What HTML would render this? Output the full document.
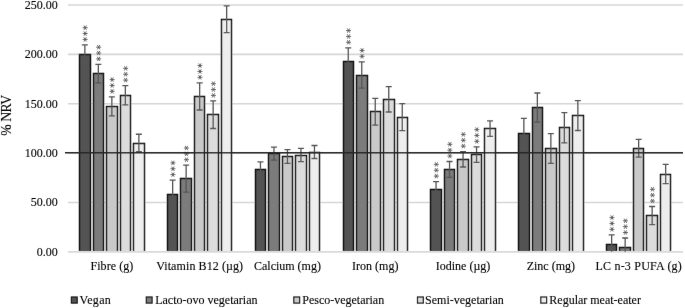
<!DOCTYPE html><html><head><meta charset="utf-8"><style>
html,body{margin:0;padding:0;background:#fff;width:685px;height:308px;overflow:hidden}
#w{opacity:0.999;will-change:transform}
svg{display:block}text{font-family:"Liberation Serif",serif;font-size:12px;fill:#050505;stroke:#050505;stroke-width:0.12px}
</style></head><body><div id="w">
<svg width="685" height="308" viewBox="0 0 685 308">
<defs><filter id="bl" x="0" y="0" width="685" height="308" filterUnits="userSpaceOnUse"><feConvolveMatrix order="3" kernelMatrix="0.0016 0.0371 0.0016 0.0371 0.8450 0.0371 0.0016 0.0371 0.0016" edgeMode="none" preserveAlpha="false"/></filter></defs>
<rect width="685" height="308" fill="#fff"/>
<g filter="url(#bl)">
<line x1="68.0" y1="202.44" x2="683.0" y2="202.44" stroke="#d6d6d6" stroke-width="1.6"/>
<line x1="68.0" y1="153.08" x2="683.0" y2="153.08" stroke="#d6d6d6" stroke-width="1.6"/>
<line x1="68.0" y1="103.72" x2="683.0" y2="103.72" stroke="#d6d6d6" stroke-width="1.6"/>
<line x1="68.0" y1="54.36" x2="683.0" y2="54.36" stroke="#d6d6d6" stroke-width="1.6"/>
<line x1="68.0" y1="5.00" x2="683.0" y2="5.00" stroke="#d6d6d6" stroke-width="1.6"/>
<text x="57.7" y="255.80" text-anchor="end" textLength="21.00" lengthAdjust="spacing">0.00</text>
<text x="57.7" y="206.44" text-anchor="end" textLength="27.00" lengthAdjust="spacing">50.00</text>
<text x="57.7" y="157.08" text-anchor="end" textLength="33.00" lengthAdjust="spacing">100.00</text>
<text x="57.7" y="107.72" text-anchor="end" textLength="33.00" lengthAdjust="spacing">150.00</text>
<text x="57.7" y="58.36" text-anchor="end" textLength="33.00" lengthAdjust="spacing">200.00</text>
<text x="57.7" y="9.00" text-anchor="end" textLength="33.00" lengthAdjust="spacing">250.00</text>
<text transform="translate(11,115.35) rotate(-90)" text-anchor="middle" style="font-size:13.7px" textLength="40.9" lengthAdjust="spacing">% NRV</text>
<path d="M79.50 251.2V54.50H90.50V251.2" fill="#525252" stroke="#141414" stroke-width="1.45"/>
<path d="M93.50 251.2V73.50H103.50V251.2" fill="#7c7c7c" stroke="#141414" stroke-width="1.45"/>
<path d="M106.50 251.2V106.50H117.50V251.2" fill="#c9c9c9" stroke="#141414" stroke-width="1.45"/>
<path d="M120.50 251.2V95.50H130.50V251.2" fill="#dcdcdc" stroke="#141414" stroke-width="1.45"/>
<path d="M133.50 251.2V143.50H144.50V251.2" fill="#eeeeee" stroke="#141414" stroke-width="1.45"/>
<path d="M167.50 251.2V194.50H177.50V251.2" fill="#525252" stroke="#141414" stroke-width="1.45"/>
<path d="M180.50 251.2V178.50H191.50V251.2" fill="#7c7c7c" stroke="#141414" stroke-width="1.45"/>
<path d="M194.50 251.2V96.50H204.50V251.2" fill="#c9c9c9" stroke="#141414" stroke-width="1.45"/>
<path d="M207.50 251.2V114.50H218.50V251.2" fill="#dcdcdc" stroke="#141414" stroke-width="1.45"/>
<path d="M221.50 251.2V19.50H231.50V251.2" fill="#eeeeee" stroke="#141414" stroke-width="1.45"/>
<path d="M255.50 251.2V169.50H265.50V251.2" fill="#525252" stroke="#141414" stroke-width="1.45"/>
<path d="M268.50 251.2V153.50H279.50V251.2" fill="#7c7c7c" stroke="#141414" stroke-width="1.45"/>
<path d="M282.50 251.2V156.50H292.50V251.2" fill="#c9c9c9" stroke="#141414" stroke-width="1.45"/>
<path d="M295.50 251.2V155.50H306.50V251.2" fill="#dcdcdc" stroke="#141414" stroke-width="1.45"/>
<path d="M309.50 251.2V152.50H319.50V251.2" fill="#eeeeee" stroke="#141414" stroke-width="1.45"/>
<path d="M343.50 251.2V61.50H353.50V251.2" fill="#525252" stroke="#141414" stroke-width="1.45"/>
<path d="M356.50 251.2V75.50H367.50V251.2" fill="#7c7c7c" stroke="#141414" stroke-width="1.45"/>
<path d="M370.50 251.2V111.50H380.50V251.2" fill="#c9c9c9" stroke="#141414" stroke-width="1.45"/>
<path d="M383.50 251.2V99.50H394.50V251.2" fill="#dcdcdc" stroke="#141414" stroke-width="1.45"/>
<path d="M397.50 251.2V117.50H407.50V251.2" fill="#eeeeee" stroke="#141414" stroke-width="1.45"/>
<path d="M430.50 251.2V189.50H441.50V251.2" fill="#525252" stroke="#141414" stroke-width="1.45"/>
<path d="M444.50 251.2V169.50H454.50V251.2" fill="#7c7c7c" stroke="#141414" stroke-width="1.45"/>
<path d="M457.50 251.2V159.50H468.50V251.2" fill="#c9c9c9" stroke="#141414" stroke-width="1.45"/>
<path d="M471.50 251.2V154.50H481.50V251.2" fill="#dcdcdc" stroke="#141414" stroke-width="1.45"/>
<path d="M484.50 251.2V128.50H495.50V251.2" fill="#eeeeee" stroke="#141414" stroke-width="1.45"/>
<path d="M518.50 251.2V133.50H529.50V251.2" fill="#525252" stroke="#141414" stroke-width="1.45"/>
<path d="M532.50 251.2V107.50H542.50V251.2" fill="#7c7c7c" stroke="#141414" stroke-width="1.45"/>
<path d="M545.50 251.2V148.50H556.50V251.2" fill="#c9c9c9" stroke="#141414" stroke-width="1.45"/>
<path d="M559.50 251.2V127.50H569.50V251.2" fill="#dcdcdc" stroke="#141414" stroke-width="1.45"/>
<path d="M572.50 251.2V115.50H583.50V251.2" fill="#eeeeee" stroke="#141414" stroke-width="1.45"/>
<path d="M606.50 251.2V244.50H616.50V251.2" fill="#525252" stroke="#141414" stroke-width="1.45"/>
<path d="M619.50 251.2V247.50H630.50V251.2" fill="#7c7c7c" stroke="#141414" stroke-width="1.45"/>
<path d="M633.50 251.2V148.50H643.50V251.2" fill="#c9c9c9" stroke="#141414" stroke-width="1.45"/>
<path d="M646.50 251.2V215.50H657.50V251.2" fill="#dcdcdc" stroke="#141414" stroke-width="1.45"/>
<path d="M660.50 251.2V174.50H670.50V251.2" fill="#eeeeee" stroke="#141414" stroke-width="1.45"/>
<line x1="68.0" y1="251.90" x2="683.0" y2="251.90" stroke="#d9d9d9" stroke-width="1.6"/>
<path d="M84.85 44.90V63.30M81.85 44.90H87.85M81.85 63.30H87.85" stroke="#555" stroke-width="1.3" fill="none"/>
<path d="M98.35 64.40V82.80M95.35 64.40H101.35M95.35 82.80H101.35" stroke="#555" stroke-width="1.3" fill="none"/>
<path d="M111.85 96.80V115.80M108.85 96.80H114.85M108.85 115.80H114.85" stroke="#555" stroke-width="1.3" fill="none"/>
<path d="M125.35 85.60V104.80M122.35 85.60H128.35M122.35 104.80H128.35" stroke="#555" stroke-width="1.3" fill="none"/>
<path d="M138.85 134.25V151.75M135.85 134.25H141.85M135.85 151.75H141.85" stroke="#555" stroke-width="1.3" fill="none"/>
<path d="M172.65 180.10V208.70M169.65 180.10H175.65M169.65 208.70H175.65" stroke="#555" stroke-width="1.3" fill="none"/>
<path d="M186.15 165.20V192.20M183.15 165.20H189.15M183.15 192.20H189.15" stroke="#555" stroke-width="1.3" fill="none"/>
<path d="M199.65 82.80V110.00M196.65 82.80H202.65M196.65 110.00H202.65" stroke="#555" stroke-width="1.3" fill="none"/>
<path d="M213.15 100.90V128.50M210.15 100.90H216.15M210.15 128.50H216.15" stroke="#555" stroke-width="1.3" fill="none"/>
<path d="M226.65 5.90V32.70M223.65 5.90H229.65M223.65 32.70H229.65" stroke="#555" stroke-width="1.3" fill="none"/>
<path d="M260.45 161.80V176.80M257.45 161.80H263.45M257.45 176.80H263.45" stroke="#555" stroke-width="1.3" fill="none"/>
<path d="M273.95 147.20V160.20M270.95 147.20H276.95M270.95 160.20H276.95" stroke="#555" stroke-width="1.3" fill="none"/>
<path d="M287.45 149.70V163.30M284.45 149.70H290.45M284.45 163.30H290.45" stroke="#555" stroke-width="1.3" fill="none"/>
<path d="M300.95 148.40V161.60M297.95 148.40H303.95M297.95 161.60H303.95" stroke="#555" stroke-width="1.3" fill="none"/>
<path d="M314.45 145.50V158.50M311.45 145.50H317.45M311.45 158.50H317.45" stroke="#555" stroke-width="1.3" fill="none"/>
<path d="M348.25 47.80V74.80M345.25 47.80H351.25M345.25 74.80H351.25" stroke="#555" stroke-width="1.3" fill="none"/>
<path d="M361.75 61.80V88.20M358.75 61.80H364.75M358.75 88.20H364.75" stroke="#555" stroke-width="1.3" fill="none"/>
<path d="M375.25 98.40V125.20M372.25 98.40H378.25M372.25 125.20H378.25" stroke="#555" stroke-width="1.3" fill="none"/>
<path d="M388.75 86.60V112.00M385.75 86.60H391.75M385.75 112.00H391.75" stroke="#555" stroke-width="1.3" fill="none"/>
<path d="M402.25 103.60V130.60M399.25 103.60H405.25M399.25 130.60H405.25" stroke="#555" stroke-width="1.3" fill="none"/>
<path d="M436.05 181.60V197.80M433.05 181.60H439.05M433.05 197.80H439.05" stroke="#555" stroke-width="1.3" fill="none"/>
<path d="M449.55 161.50V177.30M446.55 161.50H452.55M446.55 177.30H452.55" stroke="#555" stroke-width="1.3" fill="none"/>
<path d="M463.05 151.60V167.00M460.05 151.60H466.05M460.05 167.00H466.05" stroke="#555" stroke-width="1.3" fill="none"/>
<path d="M476.55 146.80V162.40M473.55 146.80H479.55M473.55 162.40H479.55" stroke="#555" stroke-width="1.3" fill="none"/>
<path d="M490.05 120.90V136.30M487.05 120.90H493.05M487.05 136.30H493.05" stroke="#555" stroke-width="1.3" fill="none"/>
<path d="M523.85 118.40V148.20M520.85 118.40H526.85M520.85 148.20H526.85" stroke="#555" stroke-width="1.3" fill="none"/>
<path d="M537.35 93.00V122.20M534.35 93.00H540.35M534.35 122.20H540.35" stroke="#555" stroke-width="1.3" fill="none"/>
<path d="M550.85 133.60V163.40M547.85 133.60H553.85M547.85 163.40H553.85" stroke="#555" stroke-width="1.3" fill="none"/>
<path d="M564.35 112.70V142.90M561.35 112.70H567.35M561.35 142.90H567.35" stroke="#555" stroke-width="1.3" fill="none"/>
<path d="M577.85 100.70V130.50M574.85 100.70H580.85M574.85 130.50H580.85" stroke="#555" stroke-width="1.3" fill="none"/>
<path d="M611.65 234.80V251.80M608.65 234.80H614.65" stroke="#555" stroke-width="1.3" fill="none"/>
<path d="M625.15 238.00V251.80M622.15 238.00H628.15" stroke="#555" stroke-width="1.3" fill="none"/>
<path d="M638.65 139.40V157.20M635.65 139.40H641.65M635.65 157.20H641.65" stroke="#555" stroke-width="1.3" fill="none"/>
<path d="M652.15 206.50V224.70M649.15 206.50H655.15M649.15 224.70H655.15" stroke="#555" stroke-width="1.3" fill="none"/>
<path d="M665.65 164.40V183.60M662.65 164.40H668.65M662.65 183.60H668.65" stroke="#555" stroke-width="1.3" fill="none"/>
<path d="M83.05 39.40H87.25M84.10 37.58L86.20 41.22M86.20 37.58L84.10 41.22M83.05 33.55H87.25M84.10 31.73L86.20 35.37M86.20 31.73L84.10 35.37M83.05 27.70H87.25M84.10 25.88L86.20 29.52M86.20 25.88L84.10 29.52M96.55 58.90H100.75M97.60 57.08L99.70 60.72M99.70 57.08L97.60 60.72M96.55 53.05H100.75M97.60 51.23L99.70 54.87M99.70 51.23L97.60 54.87M96.55 47.20H100.75M97.60 45.38L99.70 49.02M99.70 45.38L97.60 49.02M110.05 91.30H114.25M111.10 89.48L113.20 93.12M113.20 89.48L111.10 93.12M110.05 85.45H114.25M111.10 83.63L113.20 87.27M113.20 83.63L111.10 87.27M110.05 79.60H114.25M111.10 77.78L113.20 81.42M113.20 77.78L111.10 81.42M123.55 80.10H127.75M124.60 78.28L126.70 81.92M126.70 78.28L124.60 81.92M123.55 74.25H127.75M124.60 72.43L126.70 76.07M126.70 72.43L124.60 76.07M123.55 68.40H127.75M124.60 66.58L126.70 70.22M126.70 66.58L124.60 70.22M170.85 174.60H175.05M171.90 172.78L174.00 176.42M174.00 172.78L171.90 176.42M170.85 168.75H175.05M171.90 166.93L174.00 170.57M174.00 166.93L171.90 170.57M170.85 162.90H175.05M171.90 161.08L174.00 164.72M174.00 161.08L171.90 164.72M184.35 159.70H188.55M185.40 157.88L187.50 161.52M187.50 157.88L185.40 161.52M184.35 153.85H188.55M185.40 152.03L187.50 155.67M187.50 152.03L185.40 155.67M184.35 148.00H188.55M185.40 146.18L187.50 149.82M187.50 146.18L185.40 149.82M197.85 77.30H202.05M198.90 75.48L201.00 79.12M201.00 75.48L198.90 79.12M197.85 71.45H202.05M198.90 69.63L201.00 73.27M201.00 69.63L198.90 73.27M197.85 65.60H202.05M198.90 63.78L201.00 67.42M201.00 63.78L198.90 67.42M211.35 95.40H215.55M212.40 93.58L214.50 97.22M214.50 93.58L212.40 97.22M211.35 89.55H215.55M212.40 87.73L214.50 91.37M214.50 87.73L212.40 91.37M211.35 83.70H215.55M212.40 81.88L214.50 85.52M214.50 81.88L212.40 85.52M346.45 42.30H350.65M347.50 40.48L349.60 44.12M349.60 40.48L347.50 44.12M346.45 36.45H350.65M347.50 34.63L349.60 38.27M349.60 34.63L347.50 38.27M346.45 30.60H350.65M347.50 28.78L349.60 32.42M349.60 28.78L347.50 32.42M359.95 56.30H364.15M361.00 54.48L363.10 58.12M363.10 54.48L361.00 58.12M359.95 50.45H364.15M361.00 48.63L363.10 52.27M363.10 48.63L361.00 52.27M434.25 176.10H438.45M435.30 174.28L437.40 177.92M437.40 174.28L435.30 177.92M434.25 170.25H438.45M435.30 168.43L437.40 172.07M437.40 168.43L435.30 172.07M434.25 164.40H438.45M435.30 162.58L437.40 166.22M437.40 162.58L435.30 166.22M447.75 156.00H451.95M448.80 154.18L450.90 157.82M450.90 154.18L448.80 157.82M447.75 150.15H451.95M448.80 148.33L450.90 151.97M450.90 148.33L448.80 151.97M447.75 144.30H451.95M448.80 142.48L450.90 146.12M450.90 142.48L448.80 146.12M461.25 146.10H465.45M462.30 144.28L464.40 147.92M464.40 144.28L462.30 147.92M461.25 140.25H465.45M462.30 138.43L464.40 142.07M464.40 138.43L462.30 142.07M461.25 134.40H465.45M462.30 132.58L464.40 136.22M464.40 132.58L462.30 136.22M474.75 141.30H478.95M475.80 139.48L477.90 143.12M477.90 139.48L475.80 143.12M474.75 135.45H478.95M475.80 133.63L477.90 137.27M477.90 133.63L475.80 137.27M474.75 129.60H478.95M475.80 127.78L477.90 131.42M477.90 127.78L475.80 131.42M609.85 229.30H614.05M610.90 227.48L613.00 231.12M613.00 227.48L610.90 231.12M609.85 223.45H614.05M610.90 221.63L613.00 225.27M613.00 221.63L610.90 225.27M609.85 217.60H614.05M610.90 215.78L613.00 219.42M613.00 215.78L610.90 219.42M623.35 232.50H627.55M624.40 230.68L626.50 234.32M626.50 230.68L624.40 234.32M623.35 226.65H627.55M624.40 224.83L626.50 228.47M626.50 224.83L624.40 228.47M623.35 220.80H627.55M624.40 218.98L626.50 222.62M626.50 218.98L624.40 222.62M650.35 201.00H654.55M651.40 199.18L653.50 202.82M653.50 199.18L651.40 202.82M650.35 195.15H654.55M651.40 193.33L653.50 196.97M653.50 193.33L651.40 196.97M650.35 189.30H654.55M651.40 187.48L653.50 191.12M653.50 187.48L651.40 191.12" stroke="#505050" stroke-width="0.85" stroke-linecap="round" fill="none"/>
<line x1="65" y1="152.75" x2="683.0" y2="152.75" stroke="#262626" stroke-width="1.3"/>
<text x="111.85" y="269.8" text-anchor="middle" textLength="42.92" lengthAdjust="spacing">Fibre (g)</text>
<text x="199.65" y="269.8" text-anchor="middle" textLength="86.84" lengthAdjust="spacing">Vitamin B12 (µg)</text>
<text x="287.45" y="269.8" text-anchor="middle" textLength="66.98" lengthAdjust="spacing">Calcium (mg)</text>
<text x="375.25" y="269.8" text-anchor="middle" textLength="46.32" lengthAdjust="spacing">Iron (mg)</text>
<text x="463.05" y="269.8" text-anchor="middle" textLength="54.56" lengthAdjust="spacing">Iodine (µg)</text>
<text x="550.85" y="269.8" text-anchor="middle" textLength="48.32" lengthAdjust="spacing">Zinc (mg)</text>
<text x="638.65" y="269.8" text-anchor="middle" textLength="86.30" lengthAdjust="spacing">LC n-3 PUFA (g)</text>
<rect x="71.40" y="297.0" width="5.8" height="6.1" fill="#525252" stroke="#1a1a1a" stroke-width="1.2"/>
<text x="79.50" y="304" textLength="31.32" lengthAdjust="spacing">Vegan</text>
<rect x="146.30" y="297.0" width="5.8" height="6.1" fill="#7c7c7c" stroke="#1a1a1a" stroke-width="1.2"/>
<text x="155.20" y="304" textLength="102.28" lengthAdjust="spacing">Lacto-ovo vegetarian</text>
<rect x="293.80" y="297.0" width="5.8" height="6.1" fill="#c9c9c9" stroke="#1a1a1a" stroke-width="1.2"/>
<text x="302.20" y="304" textLength="81.96" lengthAdjust="spacing">Pesco-vegetarian</text>
<rect x="417.50" y="297.0" width="5.8" height="6.1" fill="#dcdcdc" stroke="#1a1a1a" stroke-width="1.2"/>
<text x="425.10" y="304" textLength="78.63" lengthAdjust="spacing">Semi-vegetarian</text>
<rect x="540.80" y="297.0" width="5.8" height="6.1" fill="#eeeeee" stroke="#1a1a1a" stroke-width="1.2"/>
<text x="549.30" y="304" textLength="91.61" lengthAdjust="spacing">Regular meat-eater</text>
</g></svg></div></body></html>
